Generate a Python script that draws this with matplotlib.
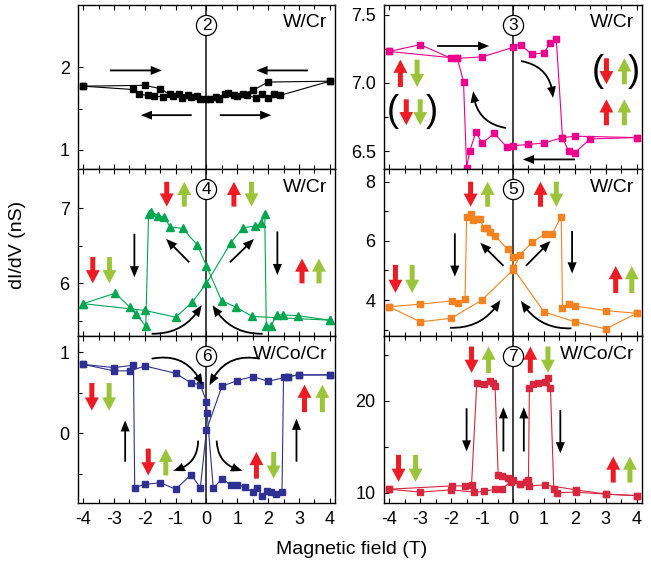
import matplotlib.pyplot as plt
from matplotlib.ticker import MultipleLocator, FixedLocator, FormatStrFormatter

plt.rcParams['font.family'] = ['Liberation Sans', 'DejaVu Sans']
plt.rcParams['axes.unicode_minus'] = False

RED = '#ed1c24'
GREEN = '#9cc43b'

# panel 2 (W/Cr)
p2_up_x = [-4, -2, -1.5, -1.2, -0.9, -0.6, -0.3, 0, 0.3, 0.6, 0.9, 1.2, 1.5, 2, 4]
p2_up_y = [1.77, 1.78, 1.74, 1.67, 1.68, 1.66, 1.65, 1.62, 1.64, 1.67, 1.66, 1.68, 1.72, 1.82, 1.83]
p2_dn_x = [-4, -2.4, -2.2, -1.9, -1.7, -1.4, -1.1, -0.8, -0.5, -0.2, 0.1, 0.4, 0.7, 1.0, 1.3,
           1.6, 1.8, 2.0, 2.2, 2.4, 4]
p2_dn_y = [1.77, 1.73, 1.67, 1.66, 1.65, 1.64, 1.65, 1.63, 1.64, 1.62, 1.61, 1.62, 1.69, 1.65, 1.66,
           1.63, 1.68, 1.63, 1.68, 1.66, 1.83]

# panel 3 (W/Cr)
p3_up_x = [-4, -3, -2, -1.8, -1, 0, 0.25, 0.6, 1.0, 1.2, 1.4, 1.6, 1.8, 2.0, 2.5, 4]
p3_up_y = [7.23, 7.28, 7.18, 7.18, 7.19, 7.26, 7.28, 7.21, 7.22, 7.29, 7.32, 6.60, 6.50, 6.49, 6.59, 6.60]
p3_dn_x = [4, 2.0, 1.6, 1.0, 0.5, 0, -0.2, -0.6, -1.0, -1.2, -1.4, -1.5, -1.6, -1.8, -4]
p3_dn_y = [6.60, 6.61, 6.60, 6.56, 6.55, 6.54, 6.53, 6.63, 6.56, 6.64, 6.50, 6.38, 7.01, 7.18, 7.23]

# panel 4 (W/Cr)
p4_up_x = [-4, -2.0, -1.0, -0.46, 0, 0.79, 1.19, 1.57, 1.78, 1.89, 1.94, 2.08, 2.29, 2.48, 2.97, 4]
p4_up_y = [5.73, 5.64, 5.55, 5.75, 6.0, 6.54, 6.74, 6.76, 6.80, 6.92, 5.43, 5.43, 5.58, 5.58, 5.57, 5.51]
p4_dn_x = [4, 1.49, 0.97, 0.49, 0.0, -0.3, -0.77, -1.18, -1.37, -1.56, -1.8, -1.88, -1.97, -2.28, -2.48,
           -2.96, -4]
p4_dn_y = [5.51, 5.56, 5.68, 5.77, 6.23, 6.51, 6.73, 6.75, 6.88, 6.90, 6.95, 6.92, 5.43, 5.59, 5.68,
           5.87, 5.73]

# panel 5 (W/Cr)
p5_up_x = [-4, -3, -2, -1, 0, 0.23, 0.62, 1.02, 1.26, 1.56, 1.6, 1.8, 2.0, 3.0, 4]
p5_up_y = [3.77, 3.26, 3.38, 4.0, 5.02, 5.53, 5.96, 6.23, 6.23, 6.83, 3.72, 3.85, 3.80, 3.64, 3.55]
p5_dn_x = [4, 3, 2, 1, 0, 0, -0.17, -0.58, -0.75, -0.85, -0.95, -1.07, -1.2, -1.28, -1.37, -1.5,
           -1.55, -1.78, -1.96, -3, -4]
p5_dn_y = [3.55, 3.02, 3.26, 3.6, 5.08, 5.47, 5.72, 6.17, 6.29, 6.43, 6.45, 6.74, 6.74, 6.71, 6.92, 6.82,
           4.03, 3.89, 3.97, 3.86, 3.77]

# panel 6 (W/Co/Cr)
p6_up_x = [-4, -3, -2.48, -2, -1, -0.5, -0.2, 0, 0.02, 0.22, 0.5, 0.8, 1.0, 1.25, 1.5, 1.65, 1.8, 1.95,
           2.1, 2.25, 2.45, 2.5, 2.65, 3, 4]
p6_up_y = [0.85, 0.77, 0.77, 0.83, 0.74, 0.62, 0.60, 0.39, 0.25, -0.68, -0.56, -0.64, -0.64, -0.66,
           -0.73, -0.67, -0.77, -0.71, -0.73, -0.75, -0.73, 0.69, 0.70, 0.72, 0.72]
p6_dn_x = [4, 3, 2.65, 2.0, 1.5, 1.0, 0.5, 0.0, -0.2, -0.5, -1.0, -1.5, -2.0, -2.33, -2.37, -3, -4]
p6_dn_y = [0.72, 0.72, 0.70, 0.64, 0.70, 0.65, 0.58, 0.04, -0.67, -0.51, -0.69, -0.61, -0.63, -0.67,
           0.84, 0.81, 0.85]

# panel 7 (W/Co/Cr)
p7_up_x = [-4, -3, -2, -1.26, -0.95, -0.58, -0.36, -0.07, 0.24, 0.42, 0.5, 0.53, 0.64, 0.82, 1.02,
           1.13, 1.21, 1.32, 1.43, 2.03, 3.02, 4]
p7_up_y = [10.4, 10.08, 10.33, 10.08, 10.15, 10.4, 10.4, 11.23, 10.98, 11.2, 11.4, 21.38, 21.85, 21.9,
           22.0, 22.5, 21.38, 10.4, 10.03, 10.08, 9.86, 9.7]
p7_dn_x = [4, 3.02, 2.03, 1.02, 0.53, 0.24, 0.01, -0.17, -0.37, -0.48, -0.58, -0.66, -0.75, -0.95,
           -1.17, -1.34, -1.56, -1.96, -4]
p7_dn_y = [9.7, 9.86, 10.33, 10.87, 10.76, 10.98, 11.45, 11.67, 11.8, 11.96, 21.63, 21.9, 22.2, 21.85,
           21.99, 10.87, 10.76, 10.76, 10.4]

W, H = 651, 567


def box(l, t, r, b):
    return [l / W, 1 - b / H, (r - l) / W, (b - t) / H]


fig = plt.figure(figsize=(6.51, 5.67), dpi=100)
ax2 = fig.add_axes(box(78, 5, 335, 169))
ax3 = fig.add_axes(box(384, 5, 642, 169))
ax4 = fig.add_axes(box(78, 169, 335, 336))
ax5 = fig.add_axes(box(384, 169, 642, 336))
ax6 = fig.add_axes(box(78, 336, 335, 503))
ax7 = fig.add_axes(box(384, 336, 642, 503))


def setup(ax, ylim, major, minor, num, label, bottom=False, fmt=None):
    ax.set_xlim(-4.17, 4.17)
    ax.set_ylim(*ylim)
    ax.xaxis.set_major_locator(MultipleLocator(1))
    ax.xaxis.set_minor_locator(MultipleLocator(0.5))
    ax.yaxis.set_major_locator(FixedLocator(major))
    ax.yaxis.set_minor_locator(FixedLocator(minor))
    if fmt:
        ax.yaxis.set_major_formatter(FormatStrFormatter(fmt))
    ax.tick_params(which='both', direction='in', top=True, right=False, width=0.8,
                   labelsize=13, pad=6)
    ax.tick_params(which='major', length=3.5)
    ax.tick_params(which='minor', length=3)
    if not bottom:
        ax.tick_params(labelbottom=False)
    for s in ax.spines.values():
        s.set_linewidth(1.0)
    ax.axvline(0, color='#333333', lw=1.3, zorder=1)
    tr = ax.get_xaxis_transform()
    ax.plot([0], [0.88], 'o', ms=14.5, mfc='white', mec='black', mew=0.9, transform=tr, zorder=5)
    ax.text(0, 0.877, num, ha='center', va='center', fontsize=12.5, transform=tr, zorder=6)
    ax.text(0.97, 0.865, label, ha='right', va='baseline', fontsize=14, transform=ax.transAxes)


def spin(ax, x, y_tail, y_tip, color):
    ax.annotate('', xy=(x, y_tip), xytext=(x, y_tail),
                arrowprops=dict(arrowstyle='simple,head_length=9.5,head_width=10,tail_width=3.6',
                                mutation_scale=1, color=color, lw=0, shrinkA=0, shrinkB=0))


def arrow(ax, x0, y0, x1, y1, rad=0.0):
    ax.annotate('', xy=(x1, y1), xytext=(x0, y0),
                arrowprops=dict(arrowstyle='simple,head_length=8,head_width=6.5,tail_width=1.3',
                                mutation_scale=1, color='black', lw=0, shrinkA=0, shrinkB=0,
                                connectionstyle='arc3,rad=%s' % rad))


def curve(ax, xs, ys, color, marker, ms):
    ax.plot(xs, ys, '-', color=color, lw=0.8, marker=marker, ms=ms, mec=color, mfc=color, zorder=3)


# panel 2
setup(ax2, (0.77, 2.75), [1, 2], [1.5], '2', 'W/Cr')
curve(ax2, p2_up_x, p2_up_y, 'black', 's', 4.5)
curve(ax2, p2_dn_x, p2_dn_y, 'black', 's', 4.5)
arrow(ax2, -3.13, 1.96, -1.45, 1.96)
arrow(ax2, 3.29, 1.96, 1.62, 1.96)
arrow(ax2, -0.48, 1.42, -2.13, 1.42)
arrow(ax2, 0.43, 1.42, 2.1, 1.42)

# panel 3
setup(ax3, (6.37, 7.57), [6.5, 7.0, 7.5], [6.75, 7.25], '3', 'W/Cr', fmt='%.1f')
curve(ax3, p3_up_x, p3_up_y, '#ec008c', 's', 4.5)
curve(ax3, p3_dn_x, p3_dn_y, '#ec008c', 's', 4.5)
arrow(ax3, -2.45, 7.27, -0.77, 7.27)
arrow(ax3, 2.0, 6.44, 0.32, 6.44)
arrow(ax3, 0.26, 7.16, 1.29, 6.89, rad=-0.4)
arrow(ax3, -0.23, 6.67, -1.28, 6.94, rad=-0.4)
spin(ax3, -3.64, 6.97, 7.17, RED)
spin(ax3, -3.1, 7.17, 6.97, GREEN)
spin(ax3, -3.45, 6.88, 6.69, RED)
spin(ax3, -3.0, 6.88, 6.69, GREEN)
spin(ax3, 3.02, 7.18, 6.99, RED)
spin(ax3, 3.6, 6.99, 7.18, GREEN)
spin(ax3, 3.02, 6.69, 6.88, RED)
spin(ax3, 3.6, 6.69, 6.88, GREEN)
for px, py, ch in [(-3.87, 6.79, '('), (-2.62, 6.79, ')'), (2.75, 7.08, '('), (3.92, 7.08, ')')]:
    ax3.text(px, py, ch, ha='center', va='center', fontsize=26)

# panel 4
setup(ax4, (5.3, 7.52), [6, 7], [5.5, 6.5], '4', 'W/Cr')
curve(ax4, p4_up_x, p4_up_y, '#00a650', '^', 5.5)
curve(ax4, p4_dn_x, p4_dn_y, '#00a650', '^', 5.5)
arrow(ax4, -2.34, 6.66, -2.34, 6.08)
arrow(ax4, 2.3, 6.69, 2.3, 6.11)
arrow(ax4, -0.56, 6.28, -1.31, 6.59)
arrow(ax4, 0.76, 6.28, 1.54, 6.59)
arrow(ax4, -1.78, 5.33, -0.16, 5.71, rad=0.3)
arrow(ax4, 1.82, 5.33, 0.2, 5.71, rad=-0.3)
spin(ax4, -1.29, 7.35, 7.02, RED)
spin(ax4, -0.72, 7.02, 7.35, GREEN)
spin(ax4, 0.89, 7.02, 7.35, RED)
spin(ax4, 1.46, 7.35, 7.02, GREEN)
spin(ax4, -3.69, 6.35, 6.0, RED)
spin(ax4, -3.15, 6.35, 6.0, GREEN)
spin(ax4, 3.1, 6.0, 6.33, RED)
spin(ax4, 3.65, 6.0, 6.33, GREEN)

# panel 5
setup(ax5, (2.78, 8.44), [4, 6, 8], [3, 5, 7], '5', 'W/Cr')
curve(ax5, p5_up_x, p5_up_y, '#f58220', 's', 4.5)
curve(ax5, p5_dn_x, p5_dn_y, '#f58220', 's', 4.5)
arrow(ax5, -1.88, 6.26, -1.88, 4.79)
arrow(ax5, 1.91, 6.34, 1.91, 4.9)
arrow(ax5, -0.31, 5.16, -1.06, 5.94)
arrow(ax5, 0.42, 5.16, 1.21, 6.0)
arrow(ax5, -2.04, 3.06, -0.41, 4.0, rad=0.3)
arrow(ax5, 1.89, 3.04, 0.26, 3.97, rad=-0.3)
spin(ax5, -1.37, 8.01, 7.16, RED)
spin(ax5, -0.82, 7.16, 8.01, GREEN)
spin(ax5, 0.89, 7.16, 8.01, RED)
spin(ax5, 1.40, 8.01, 7.16, GREEN)
spin(ax5, -3.8, 5.19, 4.24, RED)
spin(ax5, -3.26, 5.19, 4.24, GREEN)
spin(ax5, 3.32, 4.24, 5.15, RED)
spin(ax5, 3.84, 4.24, 5.15, GREEN)

# panel 6
setup(ax6, (-0.86, 1.2), [0, 1], [-0.5, 0.5], '6', 'W/Co/Cr', bottom=True)
curve(ax6, p6_up_x, p6_up_y, '#2e3192', 's', 4.5)
curve(ax6, p6_dn_x, p6_dn_y, '#2e3192', 's', 4.5)
arrow(ax6, -2.64, -0.35, -2.64, 0.16)
arrow(ax6, 2.92, -0.35, 2.92, 0.18)
arrow(ax6, -1.78, 0.92, -0.13, 0.59, rad=-0.4)
arrow(ax6, 1.73, 0.92, 0.1, 0.59, rad=0.4)
arrow(ax6, -0.27, -0.09, -1.08, -0.46, rad=-0.4)
arrow(ax6, 0.33, -0.09, 1.17, -0.46, rad=0.4)
spin(ax6, -3.72, 0.62, 0.28, RED)
spin(ax6, -3.16, 0.62, 0.28, GREEN)
spin(ax6, 3.18, 0.26, 0.6, RED)
spin(ax6, 3.76, 0.26, 0.6, GREEN)
spin(ax6, -1.89, -0.19, -0.52, RED)
spin(ax6, -1.32, -0.52, -0.19, GREEN)
spin(ax6, 1.62, -0.56, -0.23, RED)
spin(ax6, 2.18, -0.23, -0.56, GREEN)

# panel 7
setup(ax7, (8.9, 27.05), [10, 20], [15, 25], '7', 'W/Co/Cr', bottom=True)
curve(ax7, p7_up_x, p7_up_y, '#d7263d', 's', 4.5)
curve(ax7, p7_dn_x, p7_dn_y, '#d7263d', 's', 4.5)
arrow(ax7, -1.5, 19.2, -1.5, 14.5)
arrow(ax7, -0.31, 14.5, -0.31, 19.3)
arrow(ax7, 0.35, 14.5, 0.35, 19.3)
arrow(ax7, 1.53, 19.0, 1.53, 14.3)
spin(ax7, -1.34, 25.9, 23.04, RED)
spin(ax7, -0.79, 23.04, 25.9, GREEN)
spin(ax7, 0.56, 23.04, 25.9, RED)
spin(ax7, 1.13, 25.9, 23.04, GREEN)
spin(ax7, -3.7, 14.13, 11.2, RED)
spin(ax7, -3.15, 14.13, 11.2, GREEN)
spin(ax7, 3.24, 11.12, 13.95, RED)
spin(ax7, 3.78, 11.12, 13.95, GREEN)

fig.text(18 / W, 1 - 245 / H, 'dI/dV (nS)', rotation=90, ha='center', va='center', fontsize=14)
fig.text(352 / W, 1 - 550 / H, 'Magnetic field (T)', ha='center', va='center', fontsize=14)

fig.savefig('out.png', dpi=100)
